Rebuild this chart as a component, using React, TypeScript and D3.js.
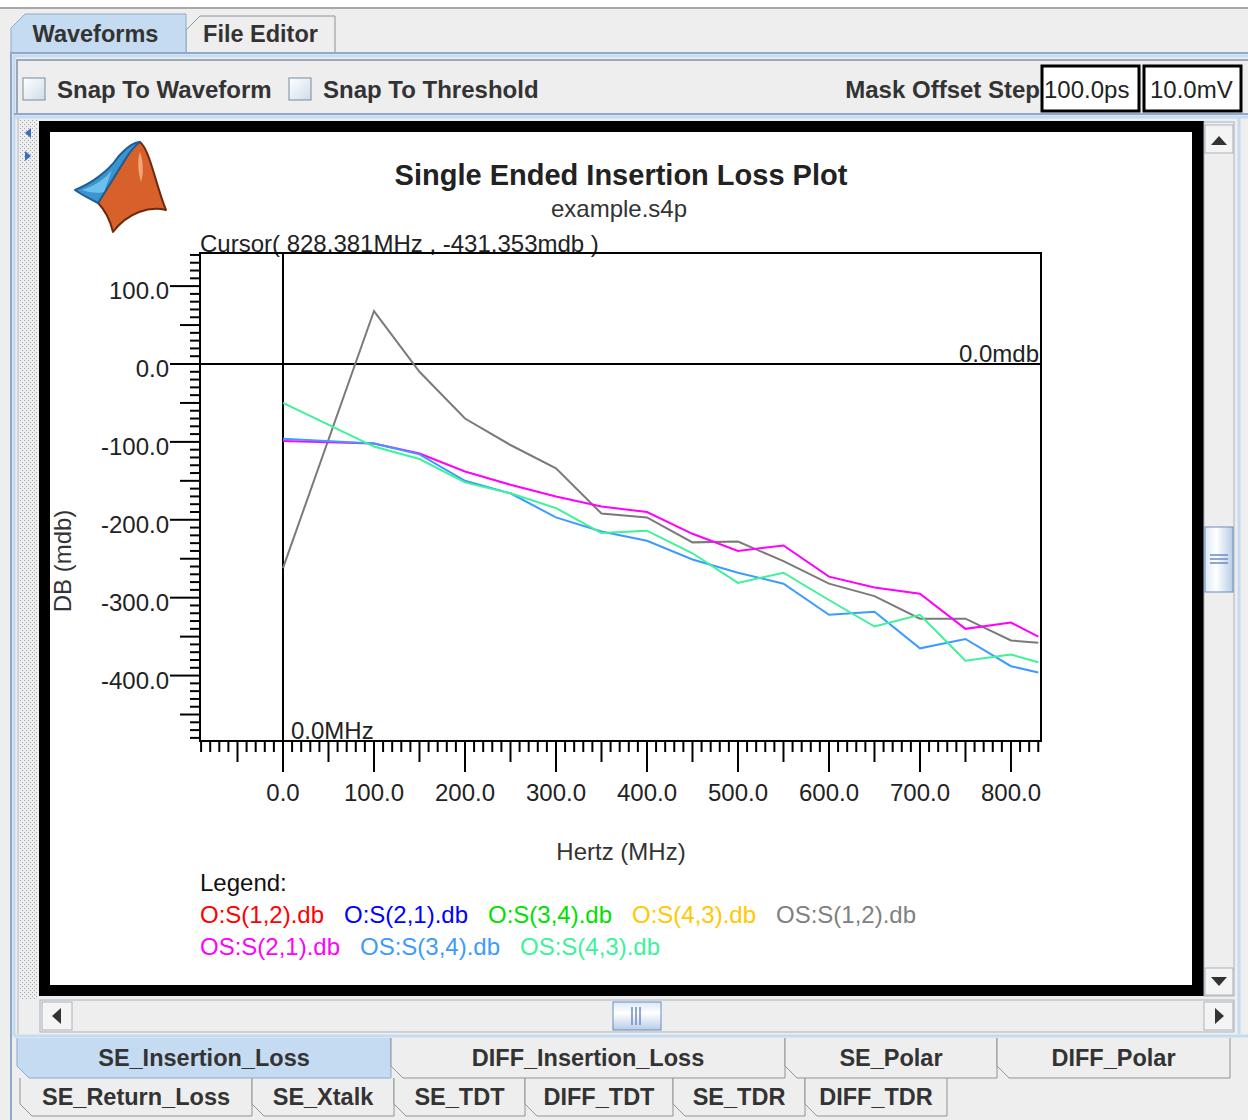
import React from 'react';
import * as d3 from 'd3';

// frequency grid of the s4p file (MHz)
const freqMHz = [0, 100, 150, 200, 250, 300, 350, 400, 450, 500, 550, 600, 650, 700, 750, 800, 830];

// insertion loss in mdb
const osS12 = [-262, 68, -10, -70, -104, -134, -192, -197, -229, -228, -253, -282, -298, -327, -327, -355, -358];
const osS21 = [-99, -102, -115, -138, -155, -170, -183, -190, -218, -240, -233, -273, -287, -295, -340, -332, -350];
const osS34 = [-96, -102, -116, -150, -166, -197, -215, -227, -251, -268, -282, -322, -318, -365, -353, -388, -396];
const osS43 = [-50, -106, -122, -152, -166, -185, -217, -214, -243, -281, -268, -303, -337, -322, -381, -373, -383];

const legendRow1 = ['O:S(1,2).db', 'O:S(2,1).db', 'O:S(3,4).db', 'O:S(4,3).db', 'OS:S(1,2).db'];
const legendRow2 = ['OS:S(2,1).db', 'OS:S(3,4).db', 'OS:S(4,3).db'];
const legendColors1 = ['#ff0000', '#0000ff', '#00e000', '#ffc800', '#808080'];
const legendColors2 = ['#ff00ff', '#3d9bff', '#3cf29a'];

const topTabs = ['Waveforms', 'File Editor'];
const bottomTabsRow1 = ['SE_Insertion_Loss', 'DIFF_Insertion_Loss', 'SE_Polar', 'DIFF_Polar'];
const bottomTabsRow2 = ['SE_Return_Loss', 'SE_Xtalk', 'SE_TDT', 'DIFF_TDT', 'SE_TDR', 'DIFF_TDR'];

const FONT = '"Liberation Sans", Arial, sans-serif';

const series = [
  { name: 'OS:S(1,2).db', values: osS12, color: '#7a7a7a' },
  { name: 'OS:S(2,1).db', values: osS21, color: '#ff00ff' },
  { name: 'OS:S(3,4).db', values: osS34, color: '#3d9bff' },
  { name: 'OS:S(4,3).db', values: osS43, color: '#3cf29a' },
];

// java style numbers: plain hyphen for negatives
const locale = d3.formatLocale({ decimal: '.', thousands: ',', grouping: [3], currency: ['', ''], minus: '-' });
const fmt = locale.format('.1f');

const Checkbox = ({ x, y }) => (
  <rect x={x} y={y} width={22} height={22} fill="url(#cbGrad)" stroke="#7a8a99" />
);

const Tab = ({ x, w, y, h, label, selected, bottom, dx = 0 }) => {
  const d = bottom
    ? `M${x},${y} L${x},${y + h - 12} L${x + 12},${y + h} L${x + w},${y + h} L${x + w},${y}`
    : `M${x},${y + h} L${x},${y + 14} L${x + 14},${y} L${x + w},${y} L${x + w},${y + h}`;
  return (
    <g>
      <path d={d} fill={selected ? '#c5dbf1' : '#eeeeee'} stroke={selected ? '#8ea9cc' : '#8e9499'} />
      <text x={x + w / 2 + dx} y={y + h / 2 + 8} textAnchor="middle" fontFamily={FONT}
        fontWeight="bold" fontSize={23.5} fill="#333">{label}</text>
    </g>
  );
};

const App = () => {
  const W = 1248, H = 1120;
  const plot = { left: 200, right: 1041, top: 253, bottom: 741 };

  const x = d3.scaleLinear().domain([-91.2, 833]).range([plot.left, plot.right]);
  const y = d3.scaleLinear().domain([-484, 142.5]).range([plot.bottom, plot.top]);

  const line = d3.line<number>()
    .x((_, i) => x(freqMHz[i]))
    .y(d => y(d));

  const yTicks = d3.range(-480, 141, 10);
  const xTicks = d3.range(-90, 831, 10);
  const yMajor = d3.range(-400, 101, 100);
  const xMajor = d3.range(0, 801, 100);

  const tickLen = (v) => (v % 100 === 0 ? 30 : v % 50 === 0 ? 20 : 10);

  return (
    <svg width={W} height={H} style={{ position: 'absolute', left: 0, top: 0, display: 'block' }}
      fontFamily={FONT}>
      <defs>
        <linearGradient id="cbGrad" x1="0" y1="0" x2="1" y2="1">
          <stop offset="0" stopColor="#ffffff" />
          <stop offset="1" stopColor="#cfdcea" />
        </linearGradient>
        <linearGradient id="thumbV" x1="0" y1="0" x2="1" y2="0">
          <stop offset="0" stopColor="#dce8f5" />
          <stop offset="0.4" stopColor="#ffffff" />
          <stop offset="1" stopColor="#b8cde6" />
        </linearGradient>
        <linearGradient id="thumbH" x1="0" y1="0" x2="0" y2="1">
          <stop offset="0" stopColor="#dce8f5" />
          <stop offset="0.4" stopColor="#ffffff" />
          <stop offset="1" stopColor="#b8cde6" />
        </linearGradient>
        <pattern id="dots" width="4" height="4" patternUnits="userSpaceOnUse">
          <rect width="4" height="4" fill="#eeeeee" />
          <rect x="0" y="0" width="1" height="1" fill="#9aa4ae" />
          <rect x="2" y="2" width="1" height="1" fill="#9aa4ae" />
        </pattern>
      </defs>

      {/* window background */}
      <rect width={W} height={H} fill="#eeeeee" />
      <rect width={W} height={7} fill="#ffffff" />
      <line x1={0} x2={W} y1={8} y2={8} stroke="#a8a8a8" strokeWidth={2} />

      {/* top tabs */}
      <Tab x={186} w={149} y={16} h={36} label={topTabs[1]} selected={false} bottom={false} />
      <Tab x={11} w={175} y={14} h={40} label={topTabs[0]} selected bottom={false} dx={-3} />

      {/* tab content border */}
      <path d={`M11,1120 L11,53 L186,53`} fill="none" stroke="#8ea9cc" strokeWidth={2} />
      <line x1={186} x2={W} y1={53} y2={53} stroke="#8ea9cc" strokeWidth={2} />
      <line x1={13} x2={W} y1={56} y2={56} stroke="#c5dbf1" strokeWidth={3} />
      <line x1={14} x2={14} y1={56} y2={1036} stroke="#c5dbf1" strokeWidth={3} />

      {/* toolbar */}
      <line x1={16} x2={W} y1={60} y2={60} stroke="#9aa8b8" strokeWidth={2} />
      <line x1={17} x2={17} y1={60} y2={114} stroke="#9aa8b8" strokeWidth={2} />
      <Checkbox x={23} y={78} />
      <text x={57} y={98} fontWeight="bold" fontSize={24} fill="#333">Snap To Waveform</text>
      <Checkbox x={289} y={78} />
      <text x={323} y={98} fontWeight="bold" fontSize={24} fill="#333">Snap To Threshold</text>
      <text x={1040} y={98} textAnchor="end" fontWeight="bold" fontSize={24} fill="#333">Mask Offset Step</text>
      <rect x={1042} y={66} width={97} height={45} fill="#fff" stroke="#000" strokeWidth={3} />
      <text x={1044} y={98} fontSize={24} fill="#222">100.0ps</text>
      <rect x={1144} y={66} width={97} height={45} fill="#fff" stroke="#000" strokeWidth={3} />
      <text x={1150} y={98} fontSize={24} fill="#222">10.0mV</text>
      <line x1={14} x2={W} y1={114} y2={114} stroke="#8ea9cc" strokeWidth={2} />
      <line x1={14} x2={W} y1={117} y2={117} stroke="#c5dbf1" strokeWidth={3} />

      {/* split pane divider */}
      <rect x={19} y={120} width={18} height={880} fill="url(#dots)" />
      <line x1={18} x2={18} y1={118} y2={1034} stroke="#a8b4c0" />
      <path d="M31,128 L25,133 L31,138 Z" fill="#3b6bbf" />
      <path d="M25,151 L31,156 L25,161 Z" fill="#3b6bbf" />

      {/* chart panel */}
      <rect x={39} y={121} width={1165} height={875} fill="#000" />
      <rect x={50} y={132} width={1142} height={853} fill="#fff" />

      {/* vertical scrollbar */}
      <rect x={1204} y={122} width={30} height={874} fill="#eeeeee" stroke="#a9b3bd" />
      <rect x={1205} y={125} width={28} height={28} fill="#f4f4f4" stroke="#a9b3bd" />
      <path d="M1211,145 L1227,145 L1219,136 Z" fill="#333" />
      <rect x={1205} y={527} width={28} height={65} fill="url(#thumbV)" stroke="#6b8ac4" />
      {[555, 559, 563].map(v => (
        <line key={v} x1={1210} x2={1228} y1={v} y2={v} stroke="#6b8ac4" strokeWidth={1.5} />
      ))}
      <rect x={1205} y={968} width={28} height={27} fill="#f4f4f4" stroke="#a9b3bd" />
      <path d="M1211,977 L1227,977 L1219,986 Z" fill="#333" />
      <line x1={1239} x2={1239} y1={118} y2={1034} stroke="#c5dbf1" strokeWidth={3} />

      {/* horizontal scrollbar */}
      <rect x={40} y={1000} width={1194} height={32} fill="#eeeeee" stroke="#a9b3bd" />
      <rect x={42} y={1002} width={30} height={28} fill="#f4f4f4" stroke="#a9b3bd" />
      <path d="M61,1008 L52,1016 L61,1024 Z" fill="#333" />
      <rect x={613} y={1002} width={48} height={28} fill="url(#thumbH)" stroke="#6b8ac4" />
      {[632, 636, 640].map(v => (
        <line key={v} x1={v} x2={v} y1={1007} y2={1025} stroke="#6b8ac4" strokeWidth={1.5} />
      ))}
      <rect x={1204} y={1002} width={29} height={28} fill="#f4f4f4" stroke="#a9b3bd" />
      <path d="M1215,1008 L1224,1016 L1215,1024 Z" fill="#333" />
      <line x1={14} x2={W} y1={1036} y2={1036} stroke="#c5dbf1" strokeWidth={3} />

      {/* bottom tabs */}
      {bottomTabsRow2.map((t, i) => {
        const xs = [20, 252, 394, 525, 673, 805, 947];
        return <Tab key={t} x={xs[i]} w={xs[i + 1] - xs[i]} y={1078} h={38} label={t} selected={false} bottom />;
      })}
      {bottomTabsRow1.map((t, i) => {
        const xs = [17, 391, 785, 997, 1230];
        return <Tab key={t} x={xs[i]} w={xs[i + 1] - xs[i]} y={1038} h={40} label={t} selected={i === 0} bottom />;
      })}

      {/* MATLAB logo */}
      <g stroke="#6e2a0c" strokeWidth={2} strokeLinejoin="round">
        <path d="M140,142 C150,150 156,186 166,210 C150,206 128,212 113,232 C110,220 104,209 98,203 L126,158 C130,150 135,144 140,142 Z"
          fill="#d8602a" />
        <path d="M75,190 C90,184 108,172 118,157 C126,148 133,142 140,142 C134,146 130,152 126,158 L98,203 C90,199 82,195 75,190 Z"
          fill="#3b93cf" stroke="#1f5f94" />
        <path d="M82,190 C95,186 106,178 112,170 L104,192 C96,194 88,192 82,190 Z" fill="#6cc0ec" stroke="none" />
        <path d="M140,152 C143,160 144,172 141,182 C138,172 137,160 140,152 Z" fill="#f3a57a" stroke="none" />
      </g>

      {/* titles */}
      <text x={621} y={185} textAnchor="middle" fontWeight="bold" fontSize={29} fill="#222">Single Ended Insertion Loss Plot</text>
      <text x={619} y={217} textAnchor="middle" fontSize={24} fill="#333">example.s4p</text>
      <text x={200} y={252} fontSize={24} fill="#222">Cursor( 828.381MHz , -431.353mdb )</text>

      {/* plot frame */}
      <rect x={plot.left} y={plot.top} width={plot.right - plot.left} height={plot.bottom - plot.top}
        fill="none" stroke="#000" strokeWidth={2} />

      {/* y axis ticks */}
      {yTicks.map(v => (
        <line key={v} x1={plot.left - tickLen(v)} x2={plot.left} y1={y(v)} y2={y(v)} stroke="#000" strokeWidth={2} />
      ))}
      {yMajor.map(v => (
        <text key={v} x={169} y={y(v) + 13} textAnchor="end" fontSize={24} fill="#222">{fmt(v)}</text>
      ))}

      {/* x axis ticks */}
      {xTicks.map(v => (
        <line key={v} x1={x(v)} x2={x(v)} y1={plot.bottom} y2={plot.bottom + tickLen(v) + 1} stroke="#000" strokeWidth={2} />
      ))}
      {xMajor.map(v => (
        <text key={v} x={x(v)} y={801} textAnchor="middle" fontSize={24} fill="#222">{fmt(v)}</text>
      ))}

      {/* zero / cursor lines */}
      <line x1={plot.left} x2={plot.right} y1={y(0)} y2={y(0)} stroke="#000" strokeWidth={2} />
      <line x1={x(0)} x2={x(0)} y1={plot.top} y2={plot.bottom} stroke="#000" strokeWidth={2} />
      <text x={plot.right - 2} y={y(0) - 2} textAnchor="end" fontSize={24} fill="#222">0.0mdb</text>
      <text x={x(0) + 8} y={plot.bottom - 2} fontSize={24} fill="#222">0.0MHz</text>

      {/* series */}
      {series.map(s => (
        <path key={s.name} d={line(s.values) || ''} fill="none" stroke={s.color} strokeWidth={2} />
      ))}

      {/* axis titles */}
      <text x={621} y={860} textAnchor="middle" fontSize={24} fill="#333">Hertz (MHz)</text>
      <text transform="translate(71,561) rotate(-90)" textAnchor="middle" fontSize={24} fill="#333">DB (mdb)</text>

      {/* legend */}
      <text x={200} y={891} fontSize={24} fill="#111">Legend:</text>
      {legendRow1.map((t, i) => (
        <text key={t} x={200 + i * 144} y={923} fontSize={24} fill={legendColors1[i]}>{t}</text>
      ))}
      {legendRow2.map((t, i) => (
        <text key={t} x={200 + i * 160} y={955} fontSize={24} fill={legendColors2[i]}>{t}</text>
      ))}
    </svg>
  );
};

export default App;
